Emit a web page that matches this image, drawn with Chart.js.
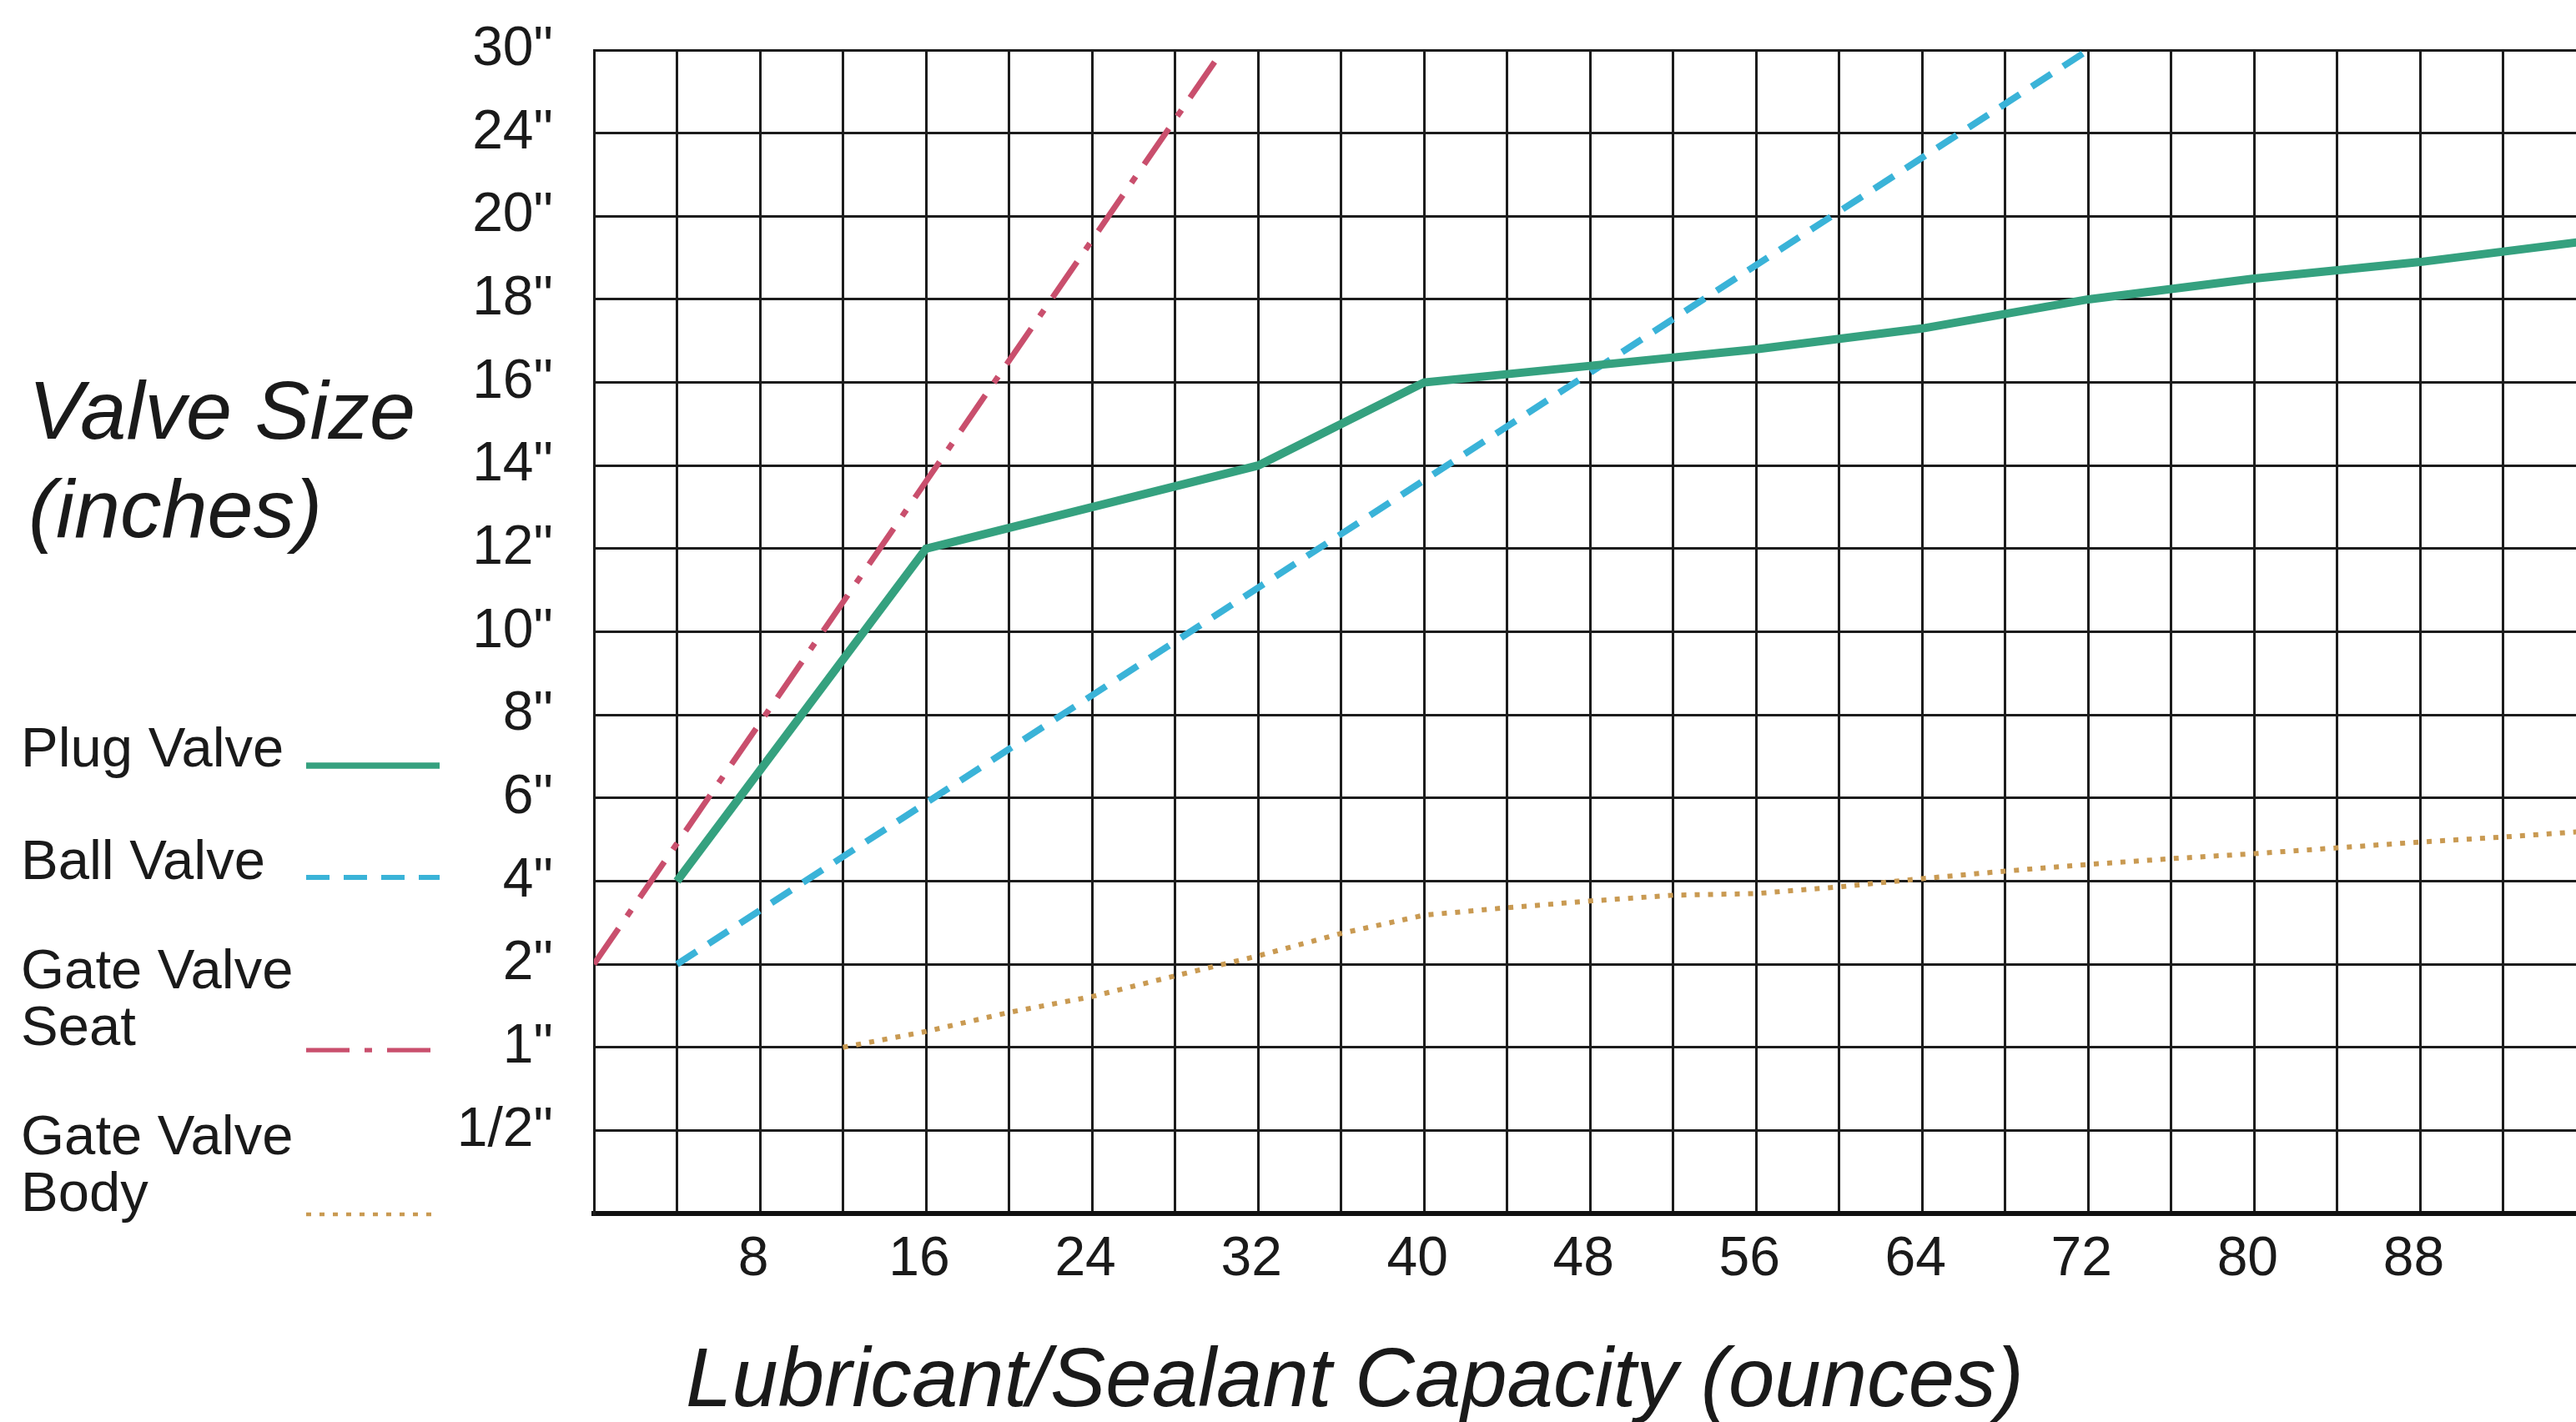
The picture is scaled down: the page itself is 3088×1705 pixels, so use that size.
<!DOCTYPE html>
<html><head><meta charset="utf-8">
<script src="https://cdn.jsdelivr.net/npm/chart.js@4.4.1/dist/chart.umd.min.js"></script>
<style>
html,body{margin:0;padding:0;background:#fff;}
#wrap{position:relative;width:3088px;height:1705px;overflow:hidden;background:#fff;font-family:"Liberation Sans",Arial,sans-serif;color:#1a1a1a;}
canvas{position:absolute;left:0;top:0;}
.t{position:absolute;white-space:nowrap;}
.lg{position:absolute;white-space:nowrap;font-size:67px;line-height:68px;}
.sw{position:absolute;}
</style></head><body>
<div id="wrap"><canvas id="c" width="3088" height="1705"></canvas>
<div class="t" style="left:34px;top:433px;font-size:99px;line-height:118px;font-style:italic;">Valve Size<br>(inches)</div>
<div class="t" style="left:822px;top:1602px;font-size:99.5px;line-height:99.5px;font-style:italic;">Lubricant/Sealant Capacity (ounces)</div>
<div id="legend"></div>
</div>
<script>
// ---- data ----
const sizeLabels = ['1/2"','1"','2"','4"','6"','8"','10"','12"','14"','16"','18"','20"','24"','30"'];
const sizeValues = [0.5, 1, 2, 4, 6, 8, 10, 12, 14, 16, 18, 20, 24, 30];
const xTickStep = 4;
const xLabelStep = 8;
const xMax = 95.5;

const seriesNames = ['Plug Valve', 'Ball Valve', 'Gate Valve\nSeat', 'Gate Valve\nBody'];

const plugOz = [4, 16, 32, 40, 48, 56, 64, 72, 80, 88, 96];
const plugIn = [4, 12, 14, 16, 16.4, 16.8, 17.3, 18, 18.5, 18.9, 19.4];

const ballOz = [4, 72];
const ballIn = [2, 30];

const seatOz = [0, 30.3];
const seatIn = [2, 30];

const bodyOz = [12, 16, 20, 24, 28, 32, 36, 40, 44, 48, 52, 56, 60, 64, 68, 72, 76, 80, 84, 88, 92, 96];
const bodyIn = [1, 1.19, 1.42, 1.61, 1.86, 2.2, 2.74, 3.18, 3.36, 3.52, 3.66, 3.7, 3.86, 4.06, 4.24, 4.4, 4.54, 4.66, 4.8, 4.94, 5.06, 5.2];

// ---- helpers: the size axis is an evenly spaced ladder of sizes ----
const ladder = [0].concat(sizeValues);
function sizeToPos(v){
  for (let i = 0; i < ladder.length - 1; i++){
    const a = ladder[i], b = ladder[i+1];
    if (v <= b) return i + (v - a) / (b - a);
  }
  return ladder.length - 1;
}
function pts(xs, ys){ return xs.map((x, i) => ({x: x, y: sizeToPos(ys[i])})); }

const FONT = '"Liberation Sans", Arial, sans-serif';
const GRID = '#1c1c1c';
const CLEAR = 'rgba(0,0,0,0)';

const datasets = [
  {label: seriesNames[0], data: pts(plugOz, plugIn), borderColor: '#35a17f', borderWidth: 10, borderDash: []},
  {label: seriesNames[1], data: pts(ballOz, ballIn), borderColor: '#3ab3d8', borderWidth: 8, borderDash: [28, 17]},
  {label: seriesNames[2], data: pts(seatOz, seatIn), borderColor: '#c94f6d', borderWidth: 7, borderDash: [52, 18, 9, 18]},
  {label: seriesNames[3], data: pts(bodyOz, bodyIn), borderColor: '#c99a52', borderWidth: 6, borderDash: [6, 10]}
].map(d => Object.assign(d, {pointRadius: 0, fill: false, tension: 0, borderCapStyle: 'butt'}));

new Chart(document.getElementById('c'), {
  type: 'line',
  data: {datasets: datasets},
  options: {
    responsive: false, devicePixelRatio: 1, animation: false,
    layout: {padding: {top: 60, left: 0, right: 0, bottom: 0}},
    plugins: {legend: {display: false}, tooltip: {enabled: false}},
    scales: {
      x: {
        type: 'linear', min: 0, max: xMax, position: 'bottom',
        afterFit: s => { s.height = 250; },
        ticks: {
          stepSize: xTickStep, autoSkip: false, includeBounds: false, maxRotation: 0,
          padding: 0, labelOffset: -8, color: '#1a1a1a', font: {family: FONT, size: 66},
          callback: v => (v > 0 && v % xLabelStep === 0) ? String(v) : ''
        },
        grid: {color: GRID, lineWidth: 3, drawTicks: true, tickLength: 16, tickColor: CLEAR},
        border: {color: '#111', width: 6}
      },
      y: {
        type: 'linear', min: 0, max: sizeValues.length,
        afterFit: s => { s.width = 712; },
        ticks: {
          stepSize: 1, autoSkip: false, padding: 0, color: '#1a1a1a', font: {family: FONT, size: 66},
          callback: v => (v > 0 ? sizeLabels[v - 1] : '')
        },
        grid: {color: GRID, lineWidth: 3, drawTicks: true, tickLength: 49, tickColor: CLEAR},
        border: {color: GRID, width: 3}
      }
    }
  }
});

// ---- legend (HTML text, samples use the dataset styles) ----
const legendTops = [862, 996.5, 1127.5, 1326.5];
const sampleY = [918, 1052, 1259, 1456];
const lg = document.getElementById('legend');
datasets.forEach((d, i) => {
  const t = document.createElement('div');
  t.className = 'lg';
  t.style.left = '25px';
  t.style.top = legendTops[i] + 'px';
  t.innerHTML = d.label.split('\n').join('<br>');
  lg.appendChild(t);
  const ns = 'http://www.w3.org/2000/svg';
  const svg = document.createElementNS(ns, 'svg');
  svg.setAttribute('width', '160'); svg.setAttribute('height', '20');
  svg.setAttribute('class', 'sw');
  svg.style.left = '367px'; svg.style.top = (sampleY[i] - 10) + 'px';
  const ln = document.createElementNS(ns, 'line');
  ln.setAttribute('x1', '0'); ln.setAttribute('x2', '160');
  ln.setAttribute('y1', '10'); ln.setAttribute('y2', '10');
  ln.setAttribute('stroke', d.borderColor);
  ln.setAttribute('stroke-width', d.borderWidth * 0.75);
  if (d.borderDash.length) ln.setAttribute('stroke-dasharray', d.borderDash.join(' '));
  svg.appendChild(ln);
  lg.appendChild(svg);
});
</script>
</body></html>
